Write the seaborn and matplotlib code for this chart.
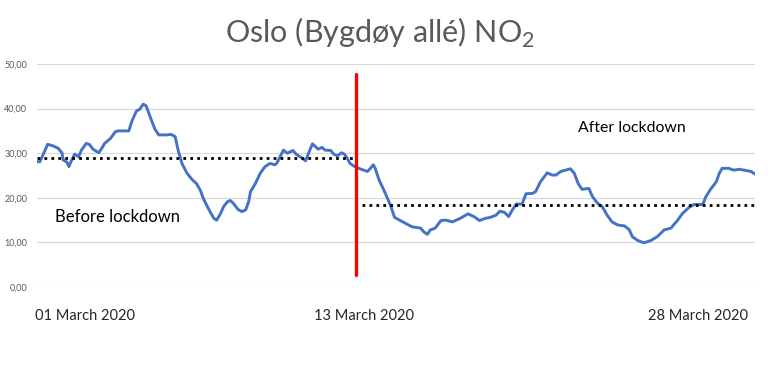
import matplotlib
matplotlib.use("Agg")
import matplotlib.pyplot as plt
import seaborn as sns
import pandas as pd

# ---- data (hours since 01 March 2020 00:00, NO2 value) ----
hours = [0, 3, 7, 11, 17, 22, 26, 27, 31, 33, 36, 39, 43, 46, 51, 54, 58, 64, 67, 70,
         76, 81, 84, 95, 98, 103, 106, 110, 113, 117, 122, 126, 134, 139, 143, 146, 150,
         155, 160, 165, 169, 172, 178, 183, 186, 190, 193, 197, 200, 203, 208, 212, 216,
         219, 221, 226, 231, 236, 241, 246, 248, 252, 255, 259, 262, 265, 268, 273, 278,
         281, 285, 289, 291, 295, 298, 304, 307, 311, 315, 318, 321, 324, 328, 333, 338,
         342, 345, 348, 350, 354, 359, 362, 366, 370, 376, 381, 388, 397, 400, 404, 407,
         412, 418, 423, 430, 438, 446, 452, 458, 464, 469, 475, 479, 484, 488, 492, 496,
         502, 506, 513, 516, 521, 528, 533, 537, 542, 547, 552, 556, 560, 564, 571, 575,
         580, 585, 590, 595, 601, 608, 613, 616, 621, 628, 635, 642, 649, 656, 663, 668,
         675, 680, 689, 692, 697, 703, 706, 709, 716, 721, 727, 734, 739, 743]
no2 = [28.1, 28.1, 30.0, 32.0, 31.6, 31.1, 30.0, 28.5, 28.0, 27.0, 28.5, 29.8, 29.2, 30.7,
       32.2, 32.0, 30.9, 30.1, 31.1, 32.2, 33.3, 34.8, 35.0, 35.0, 37.1, 39.5, 39.8, 41.0,
       40.6, 38.2, 35.4, 34.1, 34.1, 34.2, 33.7, 30.7, 27.7, 25.6, 24.2, 23.2, 21.7, 19.9,
       17.3, 15.4, 15.0, 16.5, 18.0, 19.1, 19.4, 18.8, 17.4, 16.9, 17.3, 19.1, 21.4, 23.2,
       25.5, 27.0, 27.7, 27.4, 27.7, 29.4, 30.7, 30.0, 30.3, 30.6, 29.8, 29.1, 28.3, 30.0,
       32.1, 31.3, 30.9, 31.3, 30.7, 30.6, 29.8, 29.4, 30.1, 29.8, 28.9, 27.7, 27.1, 26.6,
       26.2, 25.9, 26.6, 27.4, 26.6, 24.0, 21.7, 20.2, 18.2, 15.6, 14.9, 14.3, 13.5, 13.2,
       12.4, 11.8, 12.8, 13.2, 14.9, 15.0, 14.6, 15.4, 16.4, 15.8, 14.9, 15.4, 15.6, 16.1,
       17.0, 16.7, 15.8, 17.3, 18.6, 18.6, 20.9, 21.0, 21.4, 23.6, 25.6, 25.1, 25.1, 25.9,
       26.2, 26.5, 25.5, 23.2, 21.9, 22.1, 20.2, 18.8, 18.0, 16.1, 14.6, 13.9, 13.7, 12.8,
       11.3, 10.5, 9.9, 10.4, 11.3, 12.8, 13.2, 15.0, 16.5, 17.9, 18.5, 18.5, 20.2, 21.9,
       23.6, 25.5, 26.6, 26.6, 26.2, 26.4, 26.1, 25.9, 25.3]

tick_hours = [50, 338, 684]
tick_labels = ["01 March 2020", "13 March 2020", "28 March 2020"]
ytick_values = [0, 10, 20, 30, 40, 50]
ytick_labels = ["0,00", "10,00", "20,00", "30,00", "40,00", "50,00"]

lockdown_hour = 330
lockdown_span = (2.7, 47.8)
before_mean, before_range = 29.0, (0, 330)
after_mean, after_range = 18.4, (336, 743)
title = "Oslo (Bygdøy allé) NO$_{\\mathregular{2}}$"

df = pd.DataFrame({"hour": hours, "no2": no2})

sns.set_theme(style="white")
plt.rcParams["font.family"] = ["Lato", "DejaVu Sans"]
plt.rcParams["mathtext.fontset"] = "custom"
plt.rcParams["mathtext.rm"] = "Lato"

fig = plt.figure(figsize=(7.68, 3.88), dpi=100)
ax = fig.add_axes([37 / 768, 1 - 287 / 388, 718 / 768, 223 / 388])

for v in ytick_values:
    ax.axhline(v, color="#d9d9d9", lw=0.9, zorder=0)

sns.lineplot(data=df, x="hour", y="no2", ax=ax, color="#4472C4", lw=2.1, zorder=3)

ax.plot(before_range, [before_mean] * 2, color="black", lw=2.0, ls=(0, (1, 1.5)), zorder=4)
ax.plot(after_range, [after_mean] * 2, color="black", lw=2.0, ls=(0, (1, 1.5)), zorder=4)
ax.plot([lockdown_hour] * 2, lockdown_span, color="#FF0000", lw=2.4, zorder=5)

ax.text(19, 15.7, "Before lockdown", fontsize=12, color="black", va="center", ha="left")
ax.text(560, 35.6, "After lockdown", fontsize=11.4, color="black", va="center", ha="left")

ax.set_xlim(0, 743)
ax.set_ylim(0, 50)
ax.set_yticks(ytick_values)
ax.set_yticklabels(ytick_labels, fontsize=6.5, color="#595959")
ax.set_xticks(tick_hours)
ax.set_xticklabels(tick_labels, fontsize=10.5, color="#262626")
ax.tick_params(axis="y", length=0, pad=7)
ax.tick_params(axis="x", length=0, pad=16)
ax.set_xlabel("")
ax.set_ylabel("")
for s in ax.spines.values():
    s.set_visible(False)

fig.text(380 / 768, 1 - 33 / 388, title, fontsize=22, color="#595959", ha="center", va="center")

fig.savefig("out.png", dpi=100)
